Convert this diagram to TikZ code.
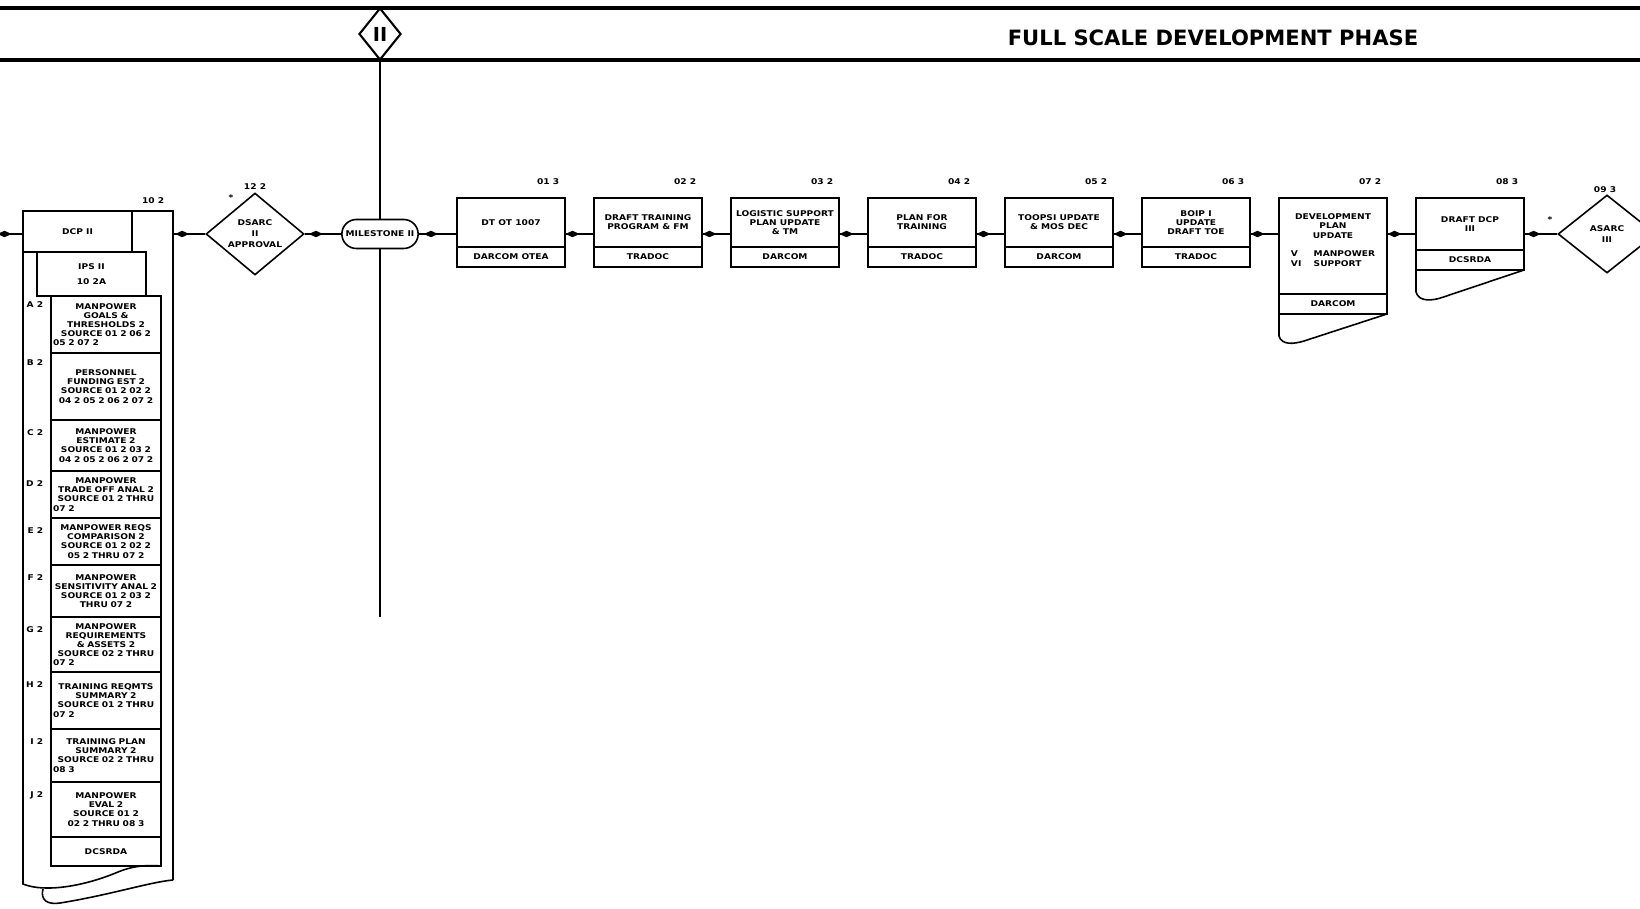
\documentclass[tikz,border=0pt]{standalone}
\usepackage{fontspec}
\setsansfont{Liberation Sans}
\newfontfamily\boxfont[FakeStretch=1.15]{DejaVu Sans}
\newfontfamily\titlefont{DejaVu Sans}
\usetikzlibrary{arrows.meta, positioning, shapes.geometric, shapes.misc, decorations.markings, calc}
\tikzset{
  every picture/.style={font=\sffamily\bfseries, line width=0.9pt},
  tiny/.style={font=\fontsize{4.5}{5.2}\selectfont\boxfont\bfseries},
  task/.style={tiny, draw, minimum width=2.16cm, minimum height=0.98cm, align=center, inner sep=1pt, outer sep=0pt},
  agency/.style={tiny, draw, minimum width=2.16cm, minimum height=0.4cm, inner sep=1pt, outer sep=0pt},
  sheet/.style={tiny, draw, minimum width=2.2cm, text width=2.12cm, align=center, inner sep=0.5pt, outer sep=0pt},
  num/.style={tiny, inner sep=0pt},
  gate/.style={tiny, diamond, draw, minimum width=1.96cm, minimum height=1.56cm, inner sep=0pt, align=center},
  flow/.style={line width=1.1pt, postaction={decorate},
    decoration={markings, mark=at position 0.5 with {\arrow{Diamond[length=2.8mm, width=1.3mm]}}}},
}

\begin{document}
\begin{tikzpicture}
  \clip (0,0) rectangle (32.8,-18.16);
  % ---------------- header band
  \draw[line width=1.8pt] (0,-0.16) -- (32.8,-0.16);
  \draw[line width=1.8pt] (0,-1.2) -- (32.8,-1.2);
  \node[diamond, draw, fill=white, line width=1.2pt, minimum width=0.84cm, minimum height=1.04cm, inner sep=0pt,
        font=\fontsize{11}{11}\selectfont\titlefont\bfseries] (ph) at (7.6,-0.68) {II};
  \node[font=\fontsize{12}{14}\selectfont\titlefont\bfseries] (phase) at (24.26,-0.76) {FULL SCALE DEVELOPMENT PHASE};
  \coordinate (row) at (0,-4.68);
  \coordinate (in) at (0,-4.68);
  \coordinate (dcpout) at (3.46,-4.68);
  \coordinate (msend) at (7.6,-12.34);

  % ---------------- left column: DCP II package
  \node[draw, tiny, outer sep=0pt, minimum width=2.18cm, minimum height=0.82cm] (dcp) at (1.55,-4.63) {DCP II};
  \node[draw, tiny, outer sep=0pt, minimum width=2.18cm, minimum height=0.88cm, align=center] (ips) at (1.83,-5.48) {IPS II\\[3pt]10 2A};
  \node[sheet, minimum height=1.14cm, anchor=north] (a2) at (2.12,-5.92)
    {MANPOWER\\GOALS \&\\THRESHOLDS 2\\SOURCE 01 2 06 2\\05 2 07 2\hfill\null};
  \node[sheet, minimum height=1.34cm, below=0pt of a2] (b2)
    {PERSONNEL\\FUNDING EST 2\\SOURCE 01 2 02 2\\04 2 05 2 06 2 07 2\\[9pt]};
  \node[sheet, minimum height=1.02cm, below=0pt of b2] (c2)
    {MANPOWER\\ESTIMATE 2\\SOURCE 01 2 03 2\\04 2 05 2 06 2 07 2};
  \node[sheet, minimum height=0.94cm, below=0pt of c2] (d2)
    {MANPOWER\\TRADE OFF ANAL 2\\SOURCE 01 2 THRU\\07 2\hfill\null};
  \node[sheet, minimum height=0.94cm, below=0pt of d2] (e2)
    {MANPOWER REQS\\COMPARISON 2\\SOURCE 01 2 02 2\\05 2 THRU 07 2};
  \node[sheet, minimum height=1.04cm, below=0pt of e2] (f2)
    {MANPOWER\\SENSITIVITY ANAL 2\\SOURCE 01 2 03 2\\THRU 07 2};
  \node[sheet, minimum height=1.10cm, below=0pt of f2] (g2)
    {MANPOWER\\REQUIREMENTS\\\& ASSETS 2\\SOURCE 02 2 THRU\\07 2\hfill\null};
  \node[sheet, minimum height=1.14cm, below=0pt of g2] (h2)
    {TRAINING REQMTS\\SUMMARY 2\\SOURCE 01 2 THRU\\07 2\hfill\null};
  \node[sheet, minimum height=1.06cm, below=0pt of h2] (i2)
    {TRAINING PLAN\\SUMMARY 2\\SOURCE 02 2 THRU\\08 3\hfill\null};
  \node[sheet, minimum height=1.10cm, below=0pt of i2] (j2)
    {MANPOWER\\EVAL 2\\SOURCE 01 2\\02 2 THRU 08 3};
  \node[sheet, minimum height=0.58cm, below=0pt of j2] (ds) {DCSRDA};
  \node[num, anchor=north east] (la2) at ([xshift=-0.14cm, yshift=-0.1cm]a2.north west) {A 2};
  \node[num, anchor=north east] (lb2) at ([xshift=-0.14cm, yshift=-0.12cm]b2.north west) {B 2};
  \node[num, anchor=north east] (lc2) at ([xshift=-0.14cm, yshift=-0.18cm]c2.north west) {C 2};
  \node[num, anchor=north east] (ld2) at ([xshift=-0.14cm, yshift=-0.18cm]d2.north west) {D 2};
  \node[num, anchor=north east] (le2) at ([xshift=-0.14cm, yshift=-0.18cm]e2.north west) {E 2};
  \node[num, anchor=north east] (lf2) at ([xshift=-0.14cm, yshift=-0.18cm]f2.north west) {F 2};
  \node[num, anchor=north east] (lg2) at ([xshift=-0.14cm, yshift=-0.18cm]g2.north west) {G 2};
  \node[num, anchor=north east] (lh2) at ([xshift=-0.14cm, yshift=-0.18cm]h2.north west) {H 2};
  \node[num, anchor=north east] (li2) at ([xshift=-0.14cm, yshift=-0.18cm]i2.north west) {I 2};
  \node[num, anchor=north east] (lj2) at ([xshift=-0.14cm, yshift=-0.18cm]j2.north west) {J 2};
  \node[num, anchor=south east] (n10) at (3.3,-4.08) {10 2};
  % outer sheet with curled bottom
  \draw (3.46,-17.6) -- (3.46,-4.22) -- (0.46,-4.22) -- (0.46,-17.68)
    .. controls (0.9,-17.86) and (1.7,-17.72) .. (2.36,-17.44)
    .. controls (2.7,-17.3) and (3.0,-17.3) .. (3.22,-17.32);
  \draw (0.86,-17.78) .. controls (0.8,-18.0) and (0.95,-18.1) .. (1.2,-18.06)
    .. controls (2.2,-17.9) and (3.0,-17.64) .. (3.46,-17.6);

  % ---------------- DSARC and milestone
  \node[gate] (dsarc) at (5.1,-4.68) {DSARC\\[1pt]II\\[1pt]APPROVAL};
  \node[num] (n12) at (5.1,-3.74) {12 2};
  \node[num] (st1) at (4.62,-3.96) {*};
  \node[draw, rounded rectangle, tiny, fill=white, minimum width=1.76cm, minimum height=0.58cm] (ms) at (7.6,-4.68) {MILESTONE II};
  \draw[line width=0.6pt] (ph.south) -- (ms.north);
  \draw[line width=0.6pt] (ms.south) -- (msend);

  % ---------------- task row
  \node[task, anchor=north west] (b1) at (9.14,-3.96) {DT OT 1007};
  \node[agency, below=0pt of b1] (g1) {DARCOM OTEA};
  \node[task, right=0.58cm of b1.north east, anchor=north west] (b2x) {DRAFT TRAINING\\PROGRAM \& FM};
  \node[agency, below=0pt of b2x] (g2) {TRADOC};
  \node[task, right=0.58cm of b2x.north east, anchor=north west] (b3) {LOGISTIC SUPPORT\\PLAN UPDATE\\\& TM};
  \node[agency, below=0pt of b3] (g3) {DARCOM};
  \node[task, right=0.58cm of b3.north east, anchor=north west] (b4) {PLAN FOR\\TRAINING};
  \node[agency, below=0pt of b4] (g4) {TRADOC};
  \node[task, right=0.58cm of b4.north east, anchor=north west] (b5) {TOOPSI UPDATE\\\& MOS DEC};
  \node[agency, below=0pt of b5] (g5) {DARCOM};
  \node[task, right=0.58cm of b5.north east, anchor=north west] (b6) {BOIP I\\UPDATE\\DRAFT TOE};
  \node[agency, below=0pt of b6] (g6) {TRADOC};
  \node[task, minimum height=1.92cm, right=0.58cm of b6.north east, anchor=north west] (b7)
    {DEVELOPMENT\\PLAN\\UPDATE\\[6pt]\begin{tabular}{@{}l@{\hspace{7pt}}l@{}}V & MANPOWER\\VI & SUPPORT\end{tabular}\\[4pt]};
  \node[agency, below=0pt of b7] (g7) {DARCOM};
  \node[task, minimum height=1.04cm, right=0.58cm of b7.north east, anchor=north west] (b8) {DRAFT DCP\\III};
  \node[agency, below=0pt of b8] (g8) {DCSRDA};
  \draw (g7.south west) -- ++(0,-0.44) to[out=-75, in=197] ++(0.5,-0.1) -- (g7.south east);
  \draw (g8.south west) -- ++(0,-0.44) to[out=-75, in=200] ++(0.55,-0.1) -- (g8.south east);
  \node[num, anchor=south east] (n1) at ([xshift=-0.1cm, yshift=0.26cm]b1.north east) {01 3};
  \node[num, anchor=south east] (n2) at ([xshift=-0.1cm, yshift=0.26cm]b2x.north east) {02 2};
  \node[num, anchor=south east] (n3) at ([xshift=-0.1cm, yshift=0.26cm]b3.north east) {03 2};
  \node[num, anchor=south east] (n4) at ([xshift=-0.1cm, yshift=0.26cm]b4.north east) {04 2};
  \node[num, anchor=south east] (n5) at ([xshift=-0.1cm, yshift=0.26cm]b5.north east) {05 2};
  \node[num, anchor=south east] (n6) at ([xshift=-0.1cm, yshift=0.26cm]b6.north east) {06 3};
  \node[num, anchor=south east] (n7) at ([xshift=-0.1cm, yshift=0.26cm]b7.north east) {07 2};
  \node[num, anchor=south east] (n8) at ([xshift=-0.1cm, yshift=0.26cm]b8.north east) {08 3};

  % ---------------- ASARC III
  \node[gate] (asarc) at (32.14,-4.68) {ASARC\\[1pt]III};
  \node[num] (n9) at (32.1,-3.8) {09 3};
  \node[num] (st2) at (31.0,-4.4) {*};

  % ---------------- flow
  \draw[flow] (in) -- (in -| dcp.west);
  \draw[flow] (dcpout) -- (dsarc.west);
  \draw[flow] (dsarc) -- (ms);
  \draw[flow] (ms) -- (ms -| b1.west);
  \draw[flow] (b1.east |- row) -- (b2x.west |- row);
  \draw[flow] (b2x.east |- row) -- (b3.west |- row);
  \draw[flow] (b3.east |- row) -- (b4.west |- row);
  \draw[flow] (b4.east |- row) -- (b5.west |- row);
  \draw[flow] (b5.east |- row) -- (b6.west |- row);
  \draw[flow] (b6.east |- row) -- (b7.west |- row);
  \draw[flow] (b7.east |- row) -- (b8.west |- row);
  \draw[flow] (b8.east |- row) -- (asarc.west);
\end{tikzpicture}
\end{document}
